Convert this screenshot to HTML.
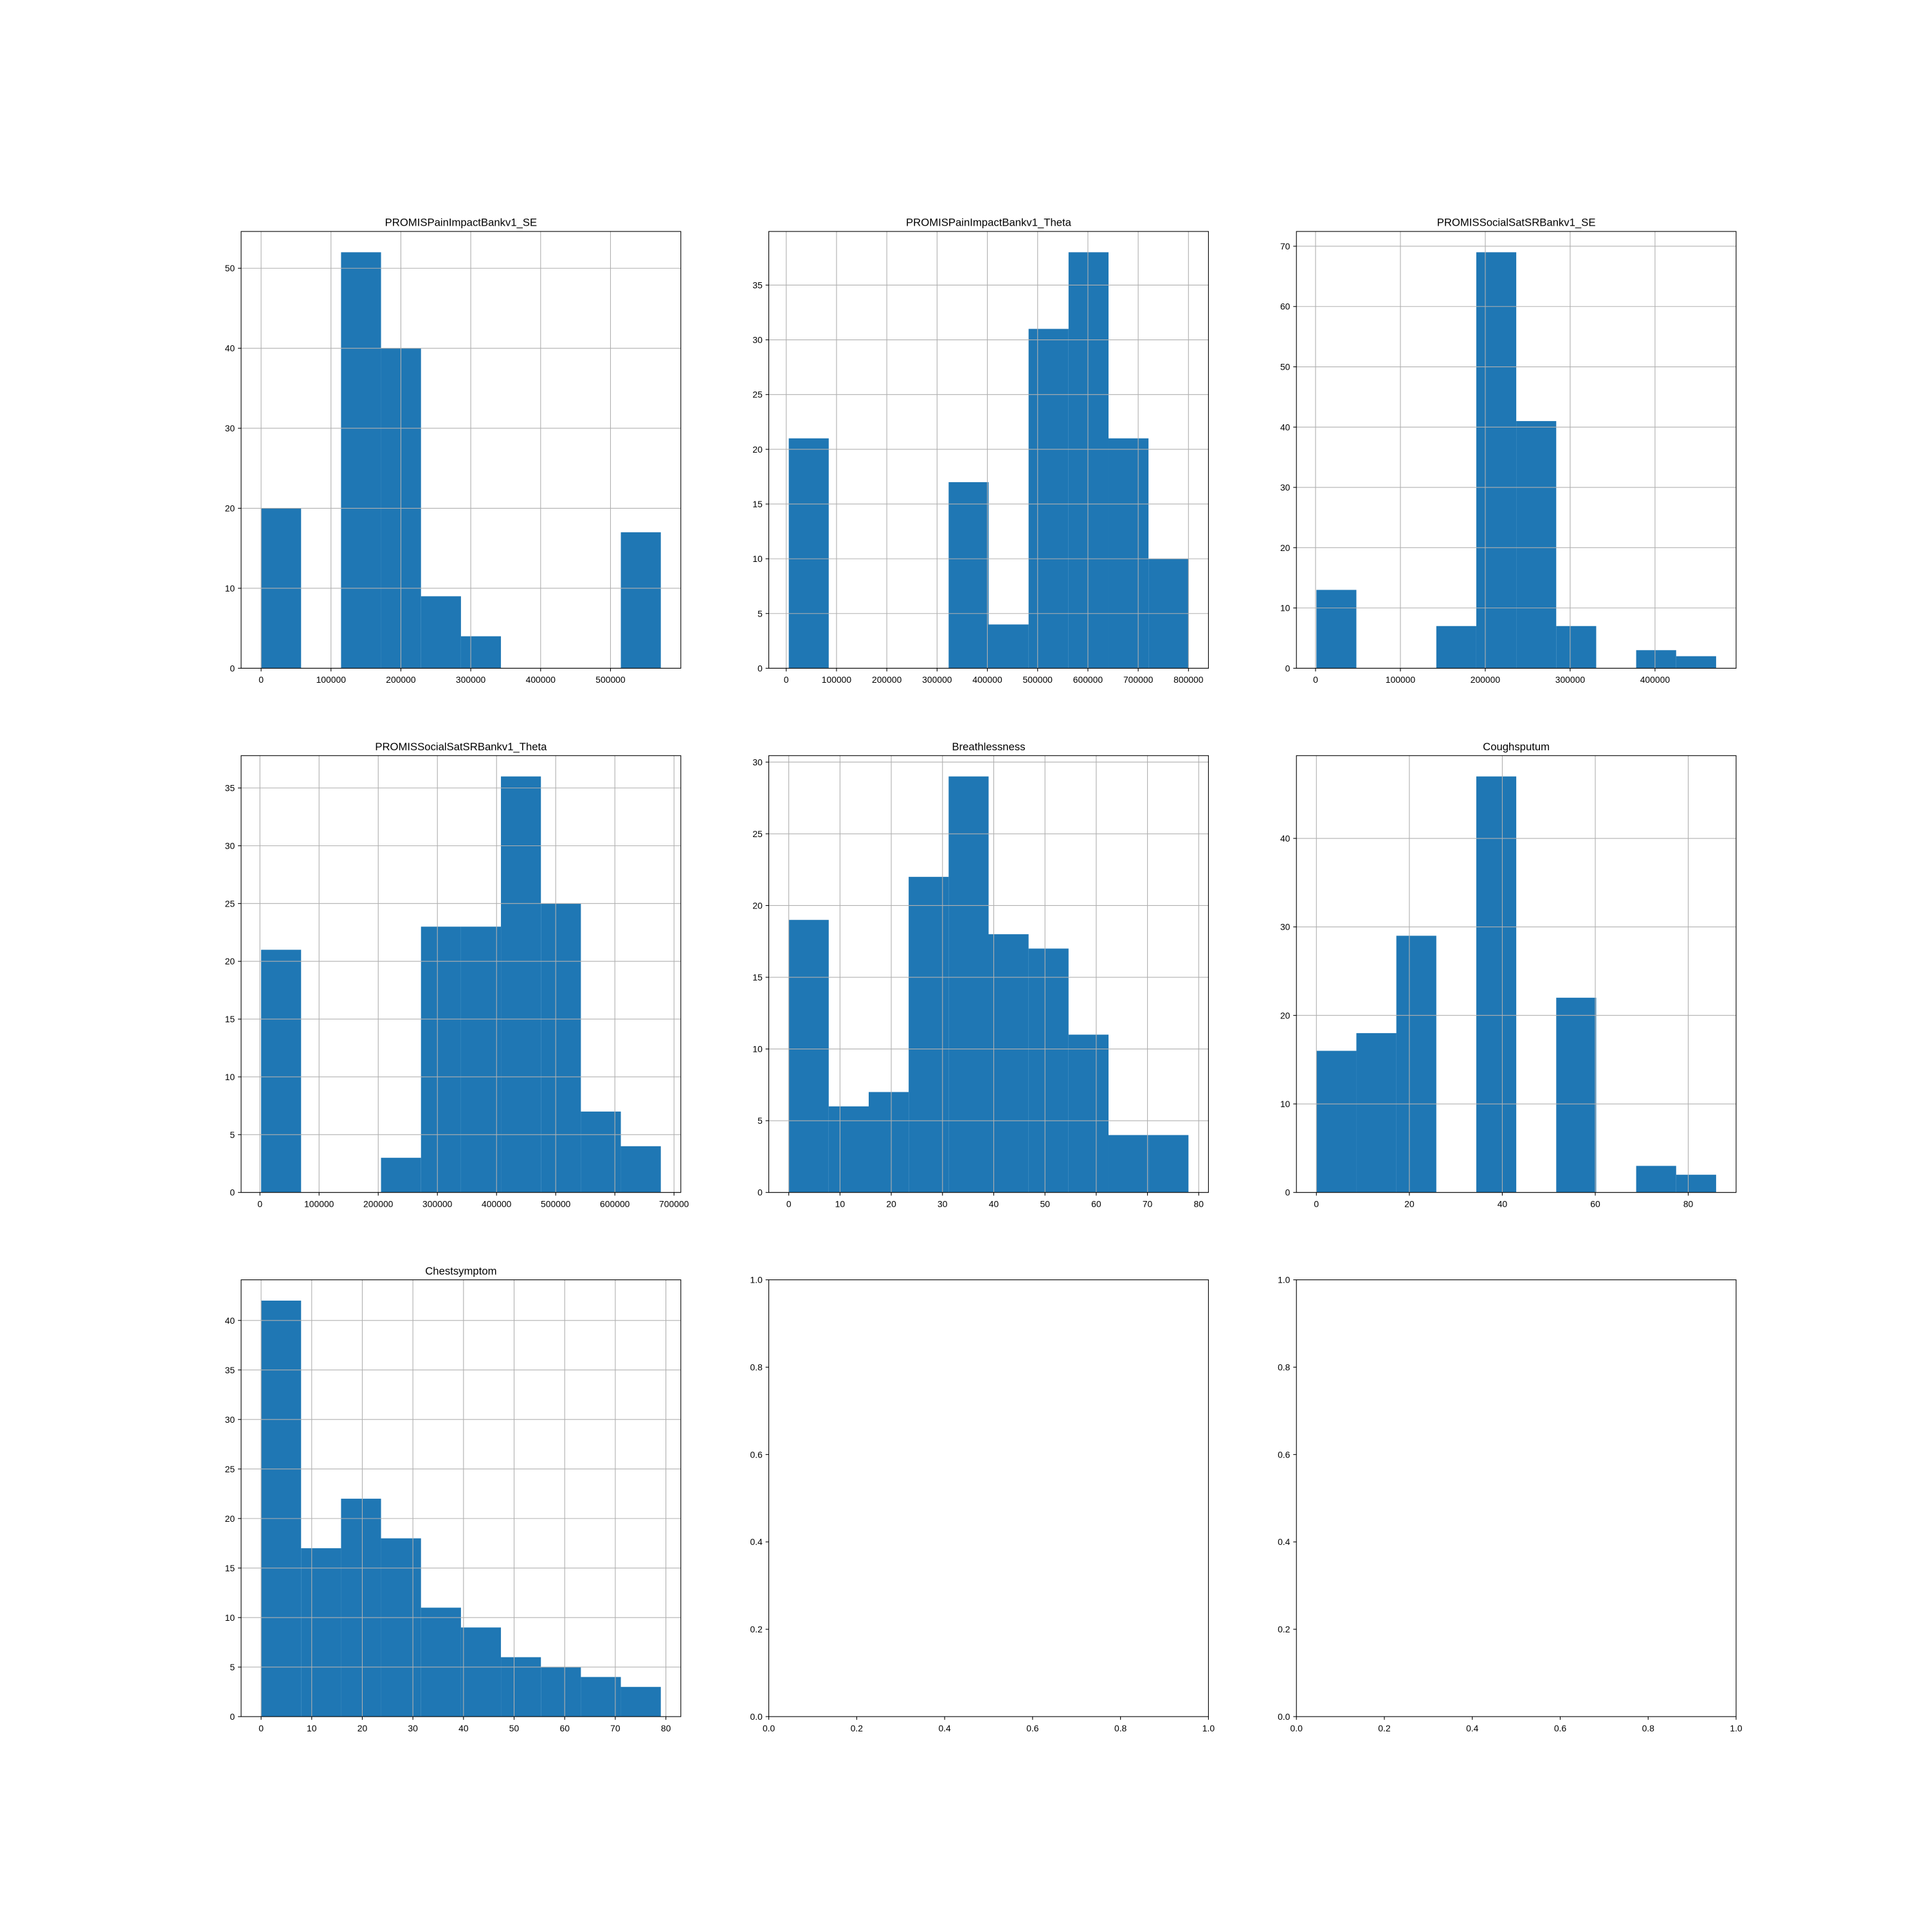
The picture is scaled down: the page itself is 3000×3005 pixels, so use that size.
<!DOCTYPE html>
<html><head><meta charset="utf-8"><style>
html,body{margin:0;padding:0;background:#fff;}
svg text{font-family:"Liberation Sans","DejaVu Sans",sans-serif;}
</style></head><body>
<svg id="fig" xmlns="http://www.w3.org/2000/svg" width="3000" height="3000" viewBox="0 0 3000 3000">
<rect width="3000" height="3000" fill="#fff"/>
</svg>
<script>
const titles = ["PROMISPainImpactBankv1_SE","PROMISPainImpactBankv1_Theta","PROMISSocialSatSRBankv1_SE","PROMISSocialSatSRBankv1_Theta","Breathlessness","Coughsputum","Chestsymptom"];
const mins = [0, 5000, 1000, 2000, 0, 0, 0];
const maxs = [572000, 800000, 472000, 677700, 78, 86, 79];
const counts0 = [20,0,52,40,9,4,0,0,0,17];
const counts1 = [21,0,0,0,17,4,31,38,21,10];
const counts2 = [13,0,0,7,69,41,7,0,3,2];
const counts3 = [21,0,0,3,23,23,36,25,7,4];
const counts4 = [19,6,7,22,29,18,17,11,4,4];
const counts5 = [16,18,29,0,47,0,22,0,3,2];
const counts6 = [42,17,22,18,11,9,6,5,4,3];
const xticks0 = [0,100000,200000,300000,400000,500000];
const xticks1 = [0,100000,200000,300000,400000,500000,600000,700000,800000];
const xticks2 = [0,100000,200000,300000,400000];
const xticks3 = [0,100000,200000,300000,400000,500000,600000,700000];
const xticks4 = [0,10,20,30,40,50,60,70,80];
const xticks5 = [0,20,40,60,80];
const xticks6 = [0,10,20,30,40,50,60,70,80];
const yticks0 = [0,10,20,30,40,50];
const yticks1 = [0,5,10,15,20,25,30,35];
const yticks2 = [0,10,20,30,40,50,60,70];
const yticks3 = [0,5,10,15,20,25,30,35];
const yticks4 = [0,5,10,15,20,25,30];
const yticks5 = [0,10,20,30,40];
const yticks6 = [0,5,10,15,20,25,30,35,40];
const emptyTicks = ["0.0","0.2","0.4","0.6","0.8","1.0"];

const allCounts=[counts0,counts1,counts2,counts3,counts4,counts5,counts6];
const allX=[xticks0,xticks1,xticks2,xticks3,xticks4,xticks5,xticks6];
const allY=[yticks0,yticks1,yticks2,yticks3,yticks4,yticks5,yticks6];
const NS="http://www.w3.org/2000/svg";
const svg=document.getElementById('fig');
const AX=[375,1195.6,2016.2], AY=[360,1175.3,1990.6], W=683.8, H=679.4;
function el(tag,attrs,parent){const e=document.createElementNS(NS,tag);for(const k in attrs)e.setAttribute(k,attrs[k]);(parent||svg).appendChild(e);return e;}

function drawAxes(idx,x0,y0,xmin,xmax,ymin,ymax,xt,xl,yt,yl,counts,bmin,bmax,title,grid){
  const g=el('g',{});
  
  
  const sx=v=>x0+(v-xmin)/(xmax-xmin)*W;
  const sy=v=>y0+H-(v-ymin)/(ymax-ymin)*H;
  if(counts){
    const bw=(bmax-bmin)/counts.length;
    counts.forEach((c,i)=>{
      if(c<=0)return;
      const a=sx(bmin+i*bw), b=sx(bmin+(i+1)*bw);
      const r=el('rect',{x:a,y:sy(c),width:b-a,height:sy(0)-sy(c),fill:'#1f77b4'},g);
      
      
    });
  }
  if(grid){
    xt.forEach(v=>{const X=sx(v);if(X<x0-0.5||X>x0+W+0.5)return;el('line',{x1:X,x2:X,y1:y0,y2:y0+H,stroke:'#b0b0b0','stroke-width':1.1},g);});
    yt.forEach(v=>{const Y=sy(v);el('line',{x1:x0,x2:x0+W,y1:Y,y2:Y,stroke:'#b0b0b0','stroke-width':1.1},g);});
  }
  xt.forEach((v,i)=>{const X=sx(v);el('line',{x1:X,x2:X,y1:y0+H,y2:y0+H+4.9,stroke:'#000','stroke-width':1.1},g);
    const t=el('text',{x:X,y:y0+H+4.9+4.9+13,'font-size':13.9,'text-anchor':'middle',fill:'#000'},g);t.textContent=xl[i];
    });
  yt.forEach((v,i)=>{const Y=sy(v);el('line',{x1:x0-4.9,x2:x0,y1:Y,y2:Y,stroke:'#000','stroke-width':1.1},g);
    const t=el('text',{x:x0-4.9-4.9,y:Y+5,'font-size':13.9,'text-anchor':'end',fill:'#000'},g);t.textContent=yl[i];
    });
  el('rect',{x:x0,y:y0,width:W,height:H,fill:'none',stroke:'#000','stroke-width':1.1},g);
  if(title){const t=el('text',{x:x0+W/2,y:y0-8.3,'font-size':16.7,'text-anchor':'middle',fill:'#000'},g);t.textContent=title;
    }
}
for(let i=0;i<7;i++){
  const r=Math.floor(i/3),c=i%3;
  const bmin=mins[i],bmax=maxs[i],rng=bmax-bmin;
  const ymax=Math.max(...allCounts[i])*1.05;
  drawAxes(i,AX[c],AY[r],bmin-0.05*rng,bmax+0.05*rng,0,ymax,allX[i],allX[i].map(String),allY[i],allY[i].map(String),allCounts[i],bmin,bmax,titles[i],true);
}
const et=[0,0.2,0.4,0.6,0.8,1.0];
drawAxes(7,AX[1],AY[2],0,1,0,1,et,emptyTicks,et,emptyTicks,null,0,0,null,false);
drawAxes(8,AX[2],AY[2],0,1,0,1,et,emptyTicks,et,emptyTicks,null,0,0,null,false);
</script>
</body></html>
